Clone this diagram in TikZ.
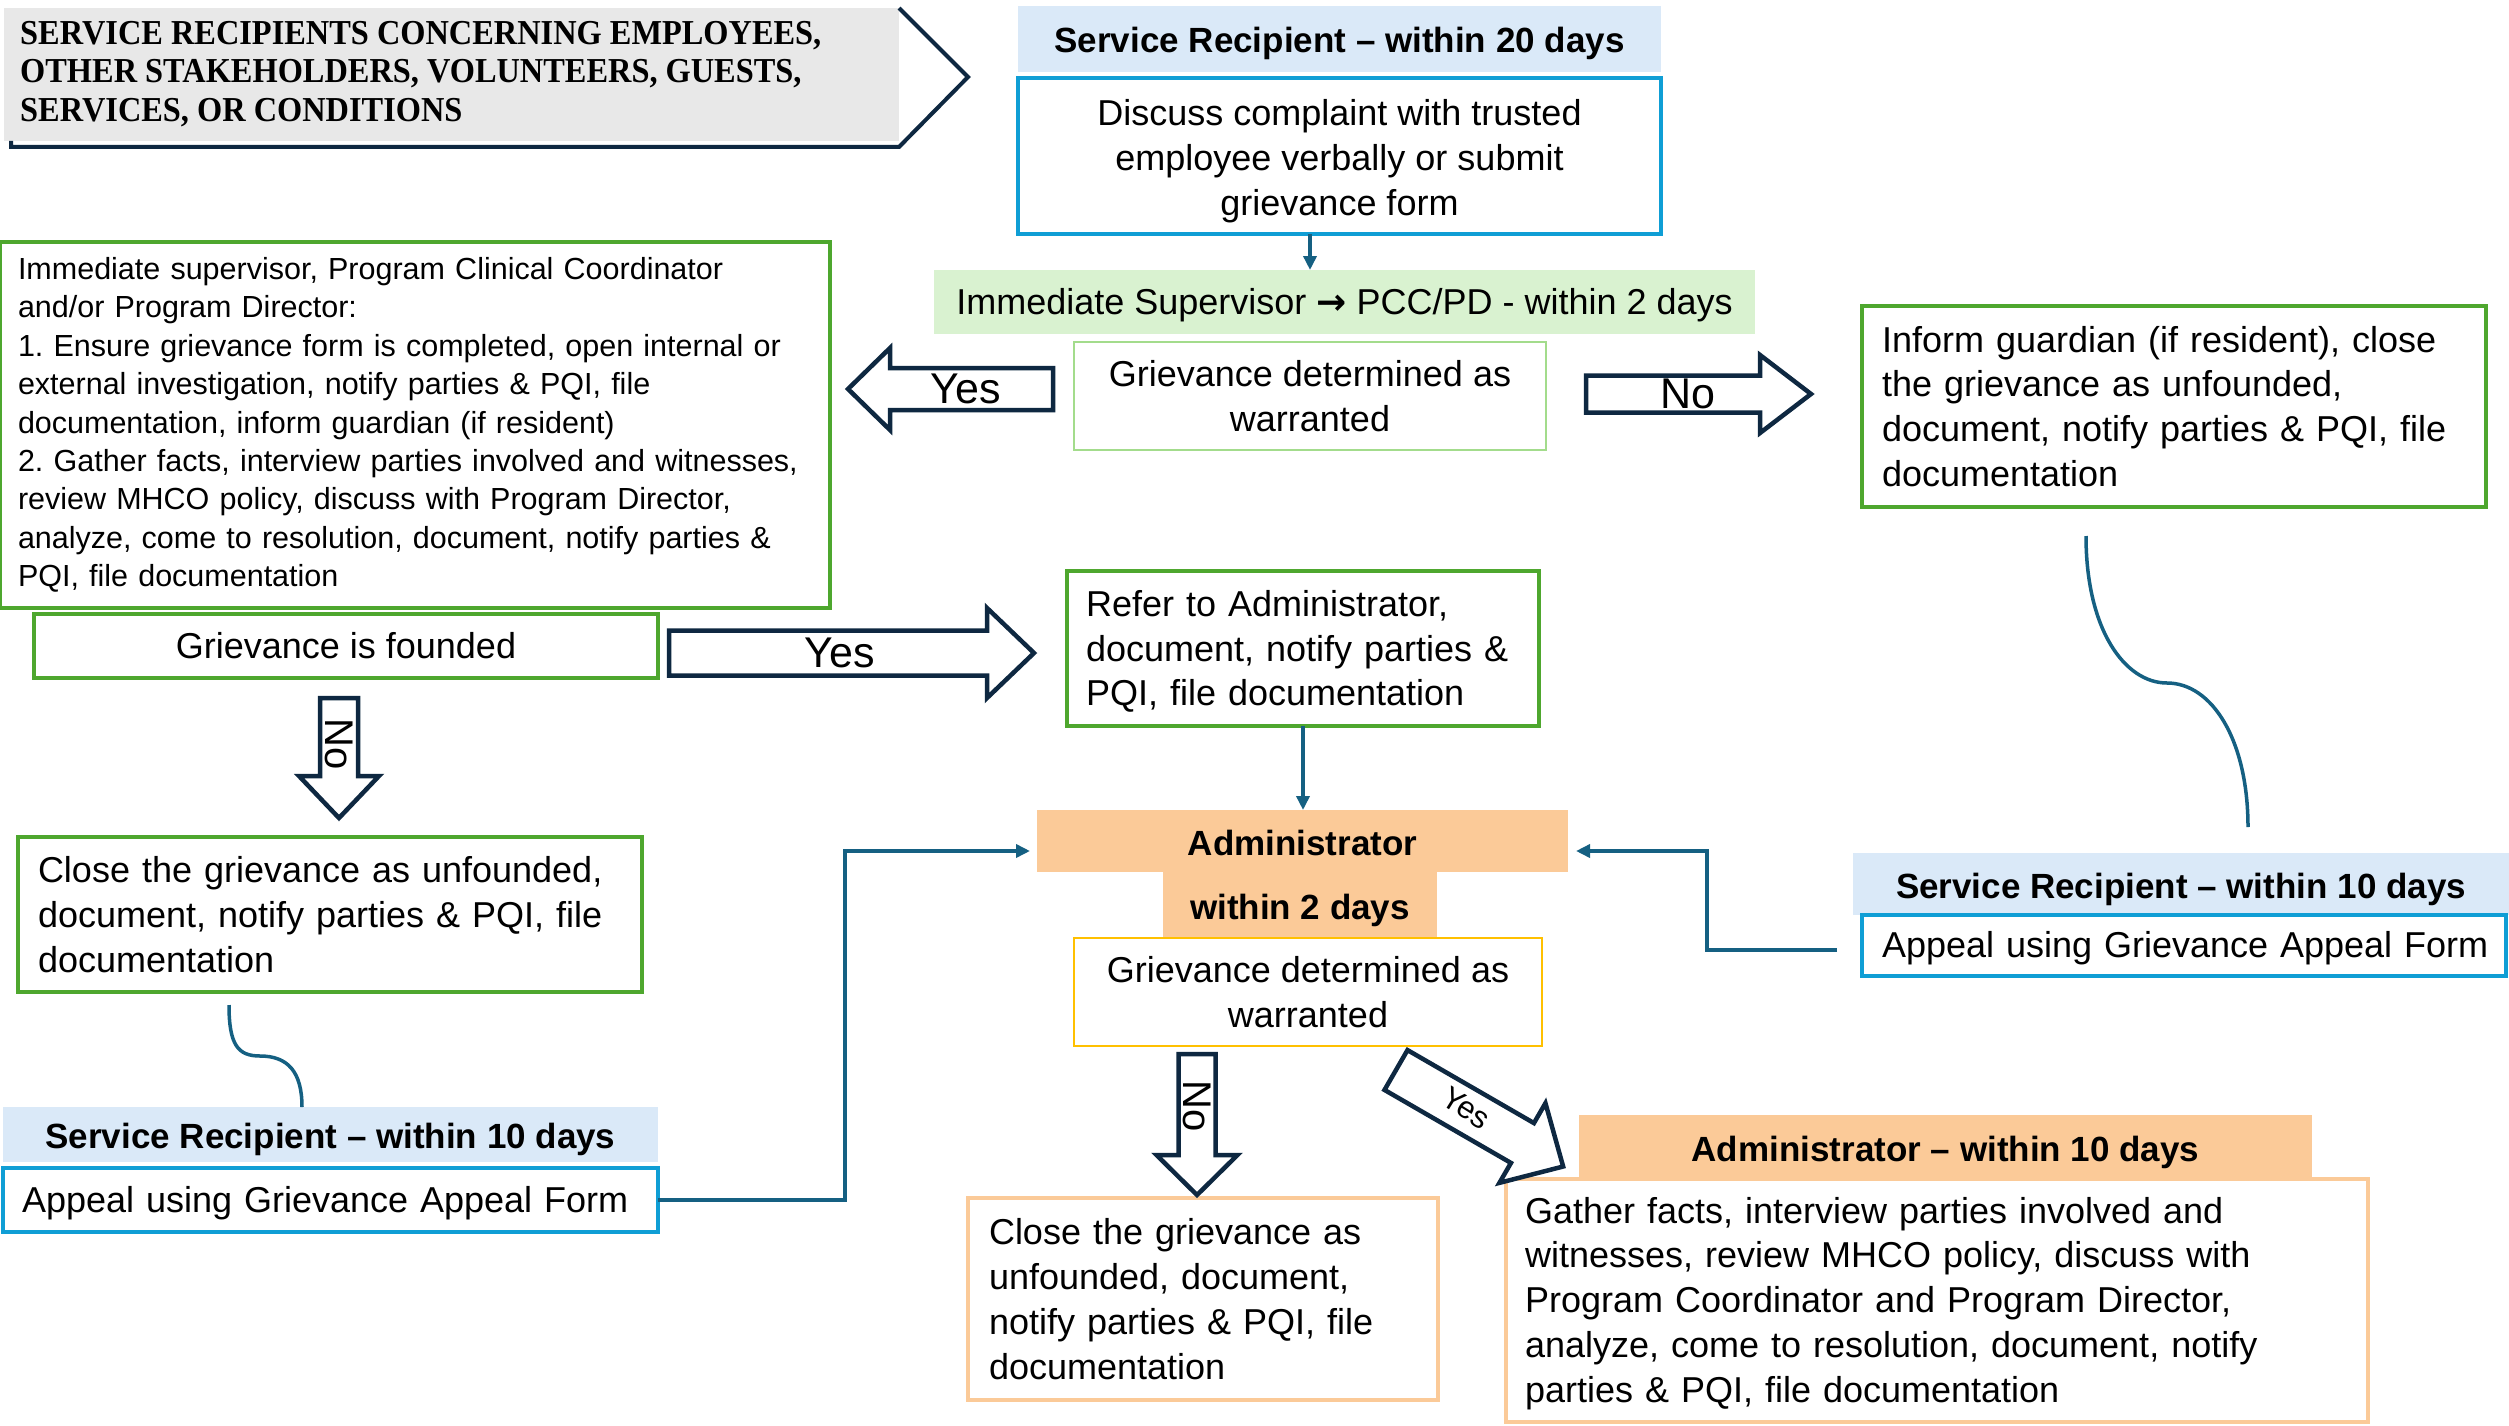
\documentclass[tikz,border=0pt]{standalone}
\usepackage{fontspec}
\setmainfont{Liberation Sans}
\newfontfamily\titlefont[FakeStretch=0.925]{Liberation Serif}
\newfontfamily\symfont{DejaVu Sans}
\usetikzlibrary{arrows.meta,calc}

\definecolor{hdrblue}{HTML}{DAE9F8}
\definecolor{bdrblue}{HTML}{0F9ED5}
\definecolor{bdrgreen}{HTML}{4EA72E}
\definecolor{hdrgreen}{HTML}{D9F2D0}
\definecolor{ltgreen}{HTML}{A3DC8C}
\definecolor{peach}{HTML}{FBCA98}
\definecolor{ybdr}{HTML}{FFC000}
\definecolor{conncol}{HTML}{156082}
\definecolor{navy}{HTML}{0E2841}
\definecolor{titlegray}{HTML}{E8E8E8}

\newcommand{\bodyfont}{\fontsize{36}{44.8}\selectfont\frenchspacing}
\newcommand{\hdrfont}{\fontsize{35}{42}\selectfont\bfseries}
\newcommand{\smallbody}{\fontsize{30.5}{38.4}\selectfont\frenchspacing}
\newcommand{\lowerA}{\rule{0pt}{36pt}}
\newcommand{\lowerB}{\rule{0pt}{32pt}}
\newcommand{\hstrut}{\rule[-8pt]{0pt}{44pt}}

\newcommand{\blockarrow}[6]{%
  \begin{scope}[shift={#1},rotate=#2]
    \draw[barr] (0,-#4) -- ({#3-#6},-#4) -- ({#3-#6},-#5) -- (#3,0) -- ({#3-#6},#5) -- ({#3-#6},#4) -- (0,#4) -- cycle;
  \end{scope}}

\begin{document}
\frenchspacing
\begin{tikzpicture}[x=1pt,y=-1pt,
  box/.style={rectangle, inner sep=0pt, outer sep=0pt, font=\bodyfont},
  hdrB/.style={box, fill=hdrblue, font=\hdrfont, align=center},
  hdrO/.style={box, fill=peach, font=\hdrfont, align=center},
  bluebox/.style={box, draw=bdrblue, line width=4.5pt},
  greenbox/.style={box, draw=bdrgreen, line width=4.5pt},
  peachbox/.style={box, draw=peach, line width=4pt},
  barr/.style={draw=navy, fill=white, line width=4.5pt, line join=miter},
  albl/.style={font=\fontsize{43}{50}\selectfont, inner sep=0pt},
  vlbl/.style={font=\fontsize{40}{46}\selectfont, inner sep=0pt},
  conn/.style={draw=conncol, line width=3.5pt, -{Triangle[length=14pt,width=13pt]}},
  curvy/.style={draw=conncol, line width=3.5pt}]

\useasboundingbox (0,0) rectangle (2509,1426);
\fill[white] (0,0) rectangle (2509,1426);

% title banner
\fill[titlegray] (4,8) rectangle (899,141);
\draw[navy, line width=4pt, line join=miter] (11,141) -- (11,147) -- (899,147) -- (968,77) -- (899,8);
\node[font=\titlefont\bfseries\fontsize{35}{38.5}\selectfont, align=left, anchor=west, inner sep=0pt] (title) at (20,74)
  {SERVICE RECIPIENTS CONCERNING EMPLOYEES,\\OTHER STAKEHOLDERS, VOLUNTEERS, GUESTS,\\SERVICES, OR CONDITIONS};

% top column
\node[hdrB, minimum width=643pt, minimum height=66pt] (hdr20) at (1339.5,39) {\hstrut Service Recipient – within 20 days};
\node[bluebox, minimum width=643pt, minimum height=156pt, align=center] (discuss) at (1339.5,156)
  {\lowerA Discuss complaint with trusted\\employee verbally or submit\\grievance form};
\node[box, fill=hdrgreen, minimum width=821pt, minimum height=64pt] (sup) at (1344.5,302)
  {\lowerB Immediate Supervisor {\symfont\bfseries →} PCC/PD - within 2 days};
\node[box, draw=ltgreen, line width=2.5pt, minimum width=472pt, minimum height=108pt, align=center] (gdw1) at (1310,396)
  {Grievance determined as\\warranted};

% left column
\node[greenbox, font=\smallbody, minimum height=366pt, text width=794pt, inner xsep=18pt, align=left] (steps) at (415,425)
  {Immediate supervisor, Program Clinical Coordinator\\and/or Program Director:\\1. Ensure grievance form is completed, open internal or\\external investigation, notify parties \& PQI, file\\documentation, inform guardian (if resident)\\2. Gather facts, interview parties involved and witnesses,\\review MHCO policy, discuss with Program Director,\\analyze, come to resolution, document, notify parties \&\\PQI, file documentation};
\node[greenbox, minimum width=624pt, minimum height=64pt] (founded) at (346,646) {Grievance is founded};
\node[greenbox, minimum height=155pt, text width=584pt, inner xsep=20pt, align=left] (closeL) at (330,914.5)
  {Close the grievance as unfounded,\\document, notify parties \& PQI, file\\documentation};
\node[hdrB, minimum width=655pt, minimum height=55pt] (hdr10L) at (330.5,1134.5) {\hstrut Service Recipient – within 10 days};
\node[bluebox, minimum height=64pt, text width=617pt, inner xsep=19pt, align=left] (appealL) at (330.5,1200)
  {\lowerB\mbox{Appeal using Grievance Appeal Form}};

% middle column
\node[greenbox, minimum height=155pt, text width=434pt, inner xsep=19pt, align=left] (refer) at (1303,648.5)
  {\lowerB Refer to Administrator,\\document, notify parties \&\\PQI, file documentation};
\node[hdrO, minimum width=531pt, minimum height=62pt] (admin) at (1302.5,841) {\hstrut Administrator};
\node[hdrO, minimum width=274pt, minimum height=66pt] (admin2) at (1300,905) {\hstrut within 2 days};
\node[box, draw=ybdr, line width=2.5pt, minimum width=468pt, minimum height=108pt, align=center] (gdw2) at (1308,992)
  {Grievance determined as\\warranted};
\node[peachbox, minimum height=202pt, text width=428pt, inner xsep=21pt, align=left] (closeB) at (1203,1299)
  {Close the grievance as\\unfounded, document,\\notify parties \& PQI, file\\documentation};

% right column
\node[greenbox, minimum height=201pt, text width=584pt, inner xsep=20pt, align=left] (inform) at (2174,406.5)
  {Inform guardian (if resident), close\\the grievance as unfounded,\\document, notify parties \& PQI, file\\documentation};
\node[hdrB, minimum width=656pt, minimum height=62pt] (hdr10R) at (2181,884) {\hstrut Service Recipient – within 10 days};
\node[bluebox, minimum height=61pt, text width=604pt, inner xsep=20pt, align=left] (appealR) at (2184,945.5)
  {\lowerB\mbox{Appeal using Grievance Appeal Form}};
\node[peachbox, minimum height=243pt, text width=824pt, inner xsep=19pt, align=left] (gather) at (1937,1300.5)
  {\lowerB Gather facts, interview parties involved and\\witnesses, review MHCO policy, discuss with\\Program Coordinator and Program Director,\\analyze, come to resolution, document, notify\\parties \& PQI, file documentation};
\node[hdrO, minimum width=733pt, minimum height=64pt] (admin10) at (1945.5,1147) {\hstrut Administrator – within 10 days};

% block arrows
\blockarrow{(1053,389)}{180}{205}{21}{41}{42}
\node[albl] (yes1) at (966,389) {Yes};
\blockarrow{(1586,394)}{0}{225}{18.5}{39}{51}
\node[albl] (no1) at (1688,394) {No};
\blockarrow{(669,653)}{0}{365}{22.5}{45}{47}
\node[albl] (yes2) at (840,653) {Yes};
\blockarrow{(339,698)}{-90}{120}{19}{40}{42}
\node[vlbl, rotate=-90] (no2) at (339,744) {No};
\blockarrow{(1197,1054)}{-90}{141}{18.5}{40.5}{40}
\node[vlbl, rotate=-90] (no3) at (1197,1106) {No};
\blockarrow{(1396,1070)}{-30}{193}{23}{46}{47}
\node[font=\fontsize{31}{36}\selectfont, inner sep=0pt, rotate=-32] (yes3) at (1466,1108) {Yes};

% connectors
\draw[conn] (gdw1.north |- discuss.south) -- (gdw1.north |- sup.north);
\draw[conn] (refer.south) -- (refer.south |- admin.north);
\draw[conn] (appealL.east) -- ++(187,0) |- ($(admin.west)+(-7,10)$);
\draw[conn] ($(appealR.west)+(-25,4.5)$) -- ++(-130,0) |- ($(admin.east)+(8,10)$);

% curvy connectors
\coordinate (cL1) at (229,1005);
\coordinate (cL2) at (302,1107);
\draw[curvy] (cL1) .. controls (229,1045) and (238,1056) .. (260,1056) .. controls (288,1056) and (302,1072) .. (cL2);
\coordinate (cR1) at (2086,536);
\coordinate (cR2) at (2248,827);
\draw[curvy] (cR1) .. controls (2086,630) and (2125,683) .. (2167,683) .. controls (2212,683) and (2248,740) .. (cR2);

\end{tikzpicture}
\end{document}
